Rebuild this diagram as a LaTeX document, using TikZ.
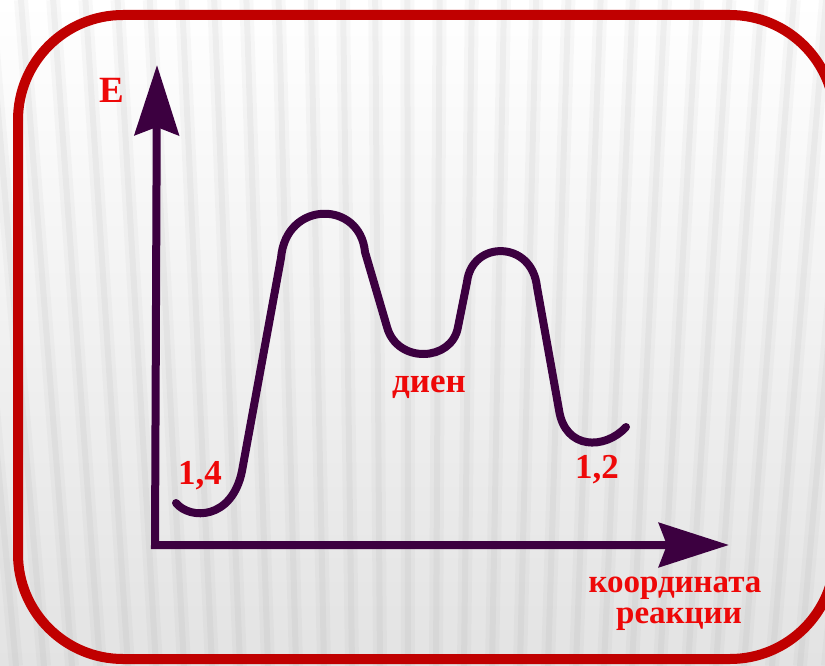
\documentclass[tikz,border=0pt]{standalone}
\usepackage{fontspec}
\setmainfont{Liberation Serif}
\usetikzlibrary{arrows.meta}

\definecolor{framered}{RGB}{192,0,0}
\definecolor{axispurple}{RGB}{60,0,64}
\definecolor{labelred}{RGB}{238,8,8}

\tikzset{axistip/.tip={Stealth[length=70pt, width=44pt, inset=8pt]}}

\begin{document}
\begin{tikzpicture}[x=1pt,y=-1pt,
    axisline/.style={draw=axispurple, line width=8pt, line join=miter},
    energyline/.style={draw=axispurple, line width=8pt, line cap=round, line join=round},
    lbl/.style={text=labelred, inner sep=0pt, anchor=base, font=\bfseries\fontsize{35}{38}\selectfont}
]

\useasboundingbox (0,0) rectangle (825,666);
\clip (0,0) rectangle (825,666);

% Background with stripes
\shade[top color=white, bottom color=gray!22] (0,0) rectangle (825,666);
\foreach \k in {0,...,34} {
    \draw[gray, line width=14pt, opacity=0.05] ({412+(\k*28-40-412)*1.15},0) -- ({\k*28-40},666);
    \draw[gray, line width=6pt, opacity=0.07] ({412+(\k*28-40-412)*1.15},0) -- ({\k*28-40},666);
}

% Frame
\draw[framered, line width=10pt, rounded corners=105pt] (18,15) rectangle (835,659);

% Axes
\coordinate (O) at (155,545);
\coordinate (Etip) at (157,65);
\coordinate (Xtip) at (729,545);
\draw[axisline, axistip-axistip] (Etip) -- (O) -- (Xtip);

% Energy profile
\draw[energyline] (176,503) .. controls (190,520) and (232,520) .. (242,471)
    -- (281,258) .. controls (286,200) and (360,200) .. (365,252)
    -- (387,327) .. controls (397,364) and (452,362) .. (458,327)
    -- (467,282) .. controls (472,240) and (532,240) .. (537,287)
    -- (559,410) .. controls (565,450) and (605,450) .. (626,427);

% Labels
\node[lbl, font=\bfseries\fontsize{37}{40}\selectfont] (elabel) at (112,103) {E};
\node[lbl] (prodA) at (200,484) {1,4};
\node[lbl] (prodB) at (597,478) {1,2};
\node[lbl] (diene) at (429,392) {диен};
\node[lbl, font=\bfseries\fontsize{33}{36}\selectfont] (xlabtop) at (675,592) {координата};
\node[lbl, font=\bfseries\fontsize{33}{36}\selectfont] (xlabbot) at (679,623) {реакции};

\end{tikzpicture}
\end{document}
